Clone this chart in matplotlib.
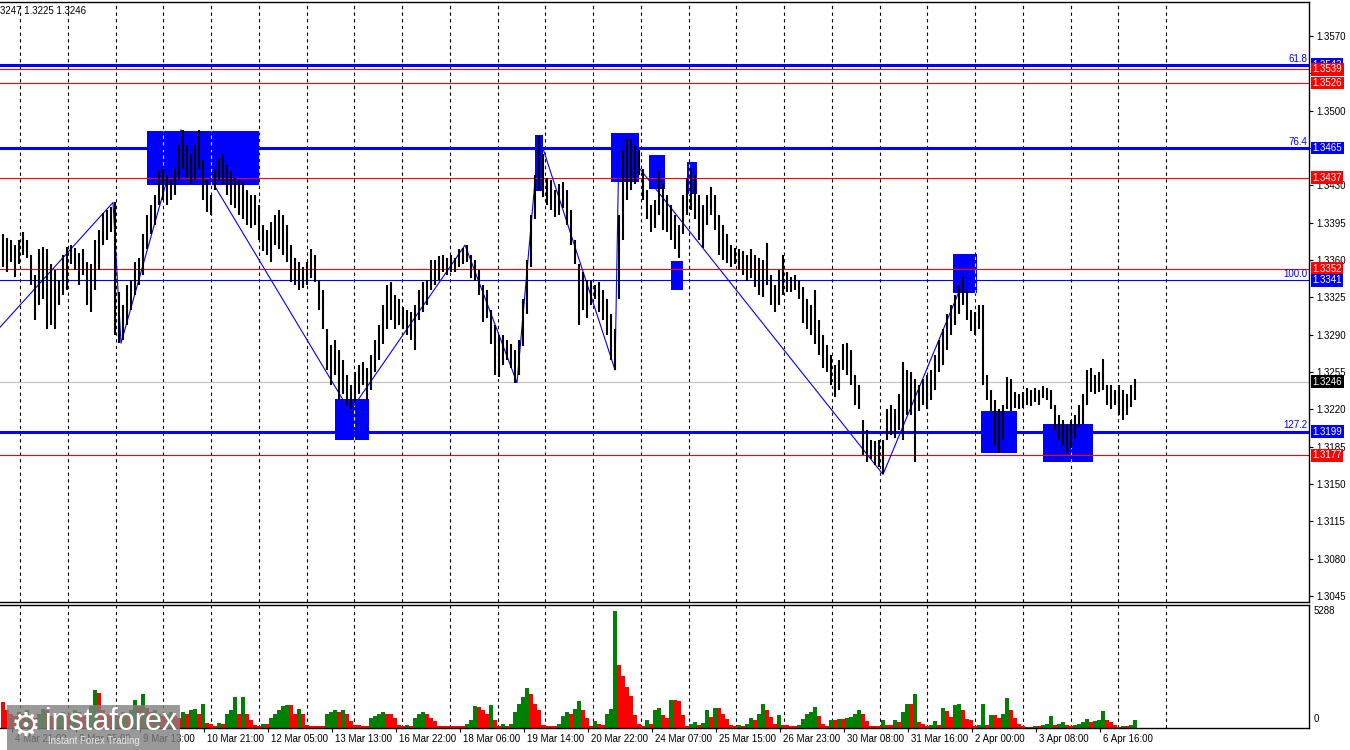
import numpy as np
import matplotlib.pyplot as plt
from matplotlib.patches import Rectangle
from matplotlib.transforms import ScaledTranslation, blended_transform_factory
from matplotlib.ticker import FuncFormatter

plt.rcParams['font.family'] = ['Liberation Sans', 'DejaVu Sans']

# GBPUSD, 2-hour bars; prices in pips above 1.3000
high_pips = [
    384, 381, 379, 374, 379, 386, 379, 365, 346, 370,
    372, 370, 356, 351, 341, 365, 372, 374, 371, 367,
    370, 358, 356, 379, 388, 404, 407, 410, 414, 330,
    318, 337, 341, 358, 362, 384, 402, 412, 421, 443,
    445, 440, 435, 445, 468, 482, 468, 459, 468, 482,
    454, 435, 421, 445, 456, 459, 449, 443, 437, 435,
    433, 426, 421, 421, 412, 393, 388, 396, 402, 407,
    402, 393, 374, 362, 358, 353, 358, 370, 365, 341,
    332, 295, 280, 285, 276, 266, 252, 243, 255, 262,
    264, 259, 271, 285, 299, 318, 337, 339, 327, 323,
    316, 313, 311, 318, 332, 339, 341, 360, 360, 364,
    365, 362, 365, 362, 370, 371, 374, 365, 360, 351,
    337, 332, 313, 299, 290, 290, 285, 281, 276, 285,
    323, 360, 402, 440, 476, 459, 437, 435, 426, 431,
    433, 426, 407, 379, 356, 349, 341, 340, 337, 339,
    332, 323, 309, 295, 402, 463, 473, 473, 468, 463,
    445, 426, 412, 416, 443, 431, 421, 412, 402, 393,
    421, 437, 446, 440, 421, 412, 421, 428, 421, 402,
    393, 384, 374, 371, 370, 368, 365, 370, 365, 362,
    360, 376, 346, 337, 351, 365, 349, 344, 346, 341,
    335, 323, 318, 332, 304, 290, 280, 271, 262, 266,
    281, 282, 276, 252, 243, 210, 201, 191, 190, 191,
    191, 220, 224, 220, 234, 264, 257, 255, 248, 243,
    248, 252, 257, 271, 285, 295, 309, 318, 327, 337,
    344, 332, 313, 311, 318, 318, 252, 238, 229, 220,
    224, 250, 248, 236, 234, 236, 240, 238, 240, 238,
    242, 240, 238, 224, 215, 210, 205, 210, 215, 224,
    234, 257, 259, 252, 255, 267, 243, 243, 238, 243, 238, 234, 243, 248,
]
low_pips = [
    353, 349, 358, 344, 356, 365, 362, 337, 304, 318,
    323, 295, 299, 295, 318, 327, 332, 356, 351, 337,
    346, 318, 311, 332, 351, 374, 379, 386, 290, 282,
    285, 299, 313, 327, 337, 346, 370, 384, 393, 412,
    416, 412, 416, 421, 435, 445, 437, 431, 435, 445,
    416, 405, 402, 426, 435, 431, 421, 412, 409, 402,
    398, 393, 390, 393, 379, 368, 365, 358, 374, 370,
    365, 358, 339, 337, 332, 334, 337, 343, 339, 313,
    295, 257, 243, 252, 229, 234, 224, 220, 227, 234,
    243, 229, 238, 255, 266, 281, 295, 304, 295, 299,
    295, 290, 285, 276, 304, 311, 318, 332, 337, 341,
    349, 346, 349, 349, 353, 356, 358, 343, 340, 327,
    302, 306, 281, 252, 250, 262, 266, 259, 245, 252,
    279, 309, 353, 398, 426, 419, 412, 407, 400, 402,
    409, 393, 374, 356, 299, 313, 306, 318, 323, 311,
    304, 290, 266, 257, 323, 379, 416, 426, 431, 440,
    416, 398, 386, 390, 402, 388, 386, 379, 370, 362,
    384, 402, 407, 398, 379, 371, 393, 402, 388, 365,
    360, 357, 353, 356, 351, 346, 340, 343, 335, 327,
    325, 337, 318, 311, 318, 327, 330, 330, 332, 323,
    301, 295, 290, 281, 271, 259, 255, 243, 232, 238,
    257, 252, 243, 224, 220, 177, 171, 173, 168, 166,
    159, 191, 196, 193, 201, 191, 215, 215, 171, 218,
    224, 220, 229, 238, 255, 262, 276, 290, 299, 309,
    318, 304, 293, 290, 295, 243, 229, 218, 187, 179,
    191, 220, 218, 221, 220, 221, 224, 223, 227, 224,
    231, 229, 220, 201, 191, 187, 180, 184, 193, 203,
    206, 224, 236, 234, 236, 238, 224, 220, 224, 215, 210, 215, 222, 229,
]
volumes = [
    1190, 820, 640, 550, 730, 640, 820, 550, 460, 640,
    870, 820, 550, 460, 640, 730, 550, 640, 820, 730,
    550, 640, 1000, 1730, 1600, 820, 640, 550, 640, 550,
    730, 640, 820, 1280, 1000, 1550, 910, 730, 820, 640,
    550, 640, 730, 550, 460, 730, 640, 820, 870, 640,
    1090, 230, 180, 90, 230, 180, 640, 820, 1410, 640,
    1410, 640, 360, 140, 90, 180, 180, 460, 640, 820,
    1000, 1050, 1050, 640, 870, 640, 140, 90, 90, 90,
    90, 640, 730, 820, 730, 820, 640, 320, 140, 140,
    90, 90, 460, 550, 640, 730, 640, 640, 460, 140,
    90, 140, 90, 460, 640, 730, 640, 460, 320, 90,
    90, 90, 90, 90, 90, 90, 180, 360, 1000, 950,
    820, 640, 1050, 360, 90, 180, 90, 180, 730, 1090,
    1410, 1820, 1550, 1100, 820, 140, 90, 90, 90, 180,
    550, 730, 640, 870, 1230, 820, 460, 90, 320, 180,
    140, 640, 870, 5288, 2830, 2370, 1870, 1460, 590, 180,
    90, 360, 180, 820, 910, 590, 460, 1280, 1280, 1230,
    590, 90, 180, 270, 140, 230, 820, 500, 910, 910,
    640, 410, 140, 90, 140, 90, 180, 460, 360, 640,
    1090, 820, 500, 180, 590, 140, 140, 90, 90, 140,
    410, 640, 730, 960, 550, 180, 90, 360, 360, 410,
    410, 460, 500, 640, 820, 640, 320, 90, 90, 90,
    360, 140, 140, 360, 270, 730, 1090, 1090, 1550, 270,
    180, 90, 140, 320, 140, 910, 770, 500, 1050, 1090,
    820, 410, 360, 90, 140, 1090, 140, 590, 590, 460,
    640, 1370, 820, 460, 180, 90, 45, 45, 90, 90,
    140, 180, 550, 140, 180, 270, 140, 90, 140, 180,
    270, 410, 270, 320, 360, 770, 360, 270, 140, 45, 90, 90, 140, 360,
]

# horizontal levels
red_levels = [1.3539, 1.3526, 1.3437, 1.3352, 1.3177]
fib_levels = [1.3543, 1.3465, 1.3341, 1.3199]
fib_names = ['61.8', '76.4', '100.0', '127.2']
last_price = 1.3246

# zigzag swing points (hour index, price)
zz_hours = [0, 56.5, 60.5, 90.5, 175, 232.5, 258.5, 269.5, 307.5, 309.5, 441.5, 482.5]
zz_prices = [1.3297, 1.3414, 1.3282, 1.3482, 1.3218, 1.3374, 1.3245, 1.3476,
             1.3257, 1.3470, 1.3159, 1.3344]

# blue zones: start hour, end hour, low, high
box_start = [73.5, 167.5, 267.5, 305.5, 324.5, 335.5, 343.5, 476.5, 490.5, 521.5]
box_end = [129.5, 184.5, 271.5, 319.5, 332.5, 341.5, 348.5, 488.5, 508.5, 546.5]
box_low = [1.3430, 1.3191, 1.3425, 1.3433, 1.3427, 1.3332, 1.3422, 1.3329, 1.3179, 1.3171]
box_high = [1.3481, 1.3230, 1.3477, 1.3479, 1.3458, 1.3359, 1.3452, 1.3366, 1.3218, 1.3206]

date_labels = ['4 Mar 21:00', '6 Mar 05:00', '9 Mar 13:00', '10 Mar 21:00', '12 Mar 05:00',
               '13 Mar 13:00', '16 Mar 22:00', '18 Mar 06:00', '19 Mar 14:00', '20 Mar 22:00',
               '24 Mar 07:00', '25 Mar 15:00', '26 Mar 23:00', '30 Mar 08:00', '31 Mar 16:00',
               '2 Apr 00:00', '3 Apr 08:00', '6 Apr 16:00']

# scale labels covered by the coloured price tags
hidden_ticks = [1.3535, 1.3465]

assert len(high_pips) == len(low_pips) == len(volumes)

highs = 1.3 + np.array(high_pips) / 10000
lows = 1.3 + np.array(low_pips) / 10000
bar_hours = 1.5 + 2 * np.arange(len(highs))
date_hours = 6 + 32 * np.arange(len(date_labels))
grid_hours = np.linspace(10, 583, 25)

FS = 7
W, H = 1350, 750
fig = plt.figure(figsize=(W / 100, H / 100), dpi=100)
ax = fig.add_axes([0, 1 - 602 / H, 1309 / W, 600 / H])
axv = fig.add_axes([0, 1 - 728 / H, 1309 / W, 123 / H])

dash = (0, (3, 3))
for a in (ax, axv):
    for gh in grid_hours:
        a.axvline(gh, color='black', ls=dash, lw=0.8, zorder=0)
    a.set_xlim(0, 654.5)
    a.spines['left'].set_visible(False)
    for s in ('top', 'bottom', 'right'):
        a.spines[s].set_linewidth(1.0)

ax.set_ylim(1.30394, 1.36019)

# zones
for s, e, lo, hi in zip(box_start, box_end, box_low, box_high):
    ax.add_patch(Rectangle((s, lo), e - s, hi - lo, facecolor='#0000ff', edgecolor='none', zorder=1))
    inside = grid_hours[(grid_hours > s) & (grid_hours < e)]
    if len(inside):
        ax.vlines(inside, lo, hi, colors='#ffff00', linestyles=dash, lw=0.8, zorder=1.5)

# levels
for p in red_levels:
    ax.axhline(p, color='#ff0000', lw=0.8, zorder=2)
for p, name in zip(fib_levels, fib_names):
    ax.axhline(p, color='#0000ff', lw=0.8 if name == '100.0' else 2.2, zorder=2)
ax.axhline(last_price, color='#c0c0c0', lw=0.8, zorder=2)

# zigzag
ax.plot(zz_hours, zz_prices, color='#0000ff', lw=0.8, zorder=2.5)

# price bars
ax.vlines(bar_hours, lows, highs, colors='black', lw=1.5, zorder=3)

# fibo names
tr = blended_transform_factory(ax.transAxes, ax.transData)
for p, name in zip(fib_levels, fib_names):
    ax.text(0.9985, p + 0.00012, name, transform=tr, ha='right', va='bottom',
            color='#0000ff', fontsize=FS, zorder=6)

# right price scale
ax.yaxis.tick_right()
ax.set_yticks(np.round(np.arange(1.3045, 1.3571, 0.0035), 4))
ax.yaxis.set_major_formatter(FuncFormatter(
    lambda v, pos: '' if any(abs(v - h) < 1e-6 for h in hidden_ticks) else f'{v:.4f}'))
ax.tick_params(axis='y', length=3, width=0.8, labelsize=FS, pad=2)
ax.set_xticks([])


def price_tag(p, color):
    ax.annotate(f'{p:.4f}', xy=(1, p), xycoords=('axes fraction', 'data'),
                xytext=(2.5, 0), textcoords='offset points', ha='left', va='center',
                color='white', fontsize=FS, annotation_clip=False, zorder=10,
                bbox=dict(boxstyle='square,pad=0.15', fc=color, ec='none'))


price_tag(fib_levels[0], '#0000ff')
price_tag(red_levels[0], '#ff0000')
price_tag(red_levels[1], '#ff0000')
price_tag(fib_levels[1], '#0000ff')
price_tag(red_levels[2], '#ff0000')
price_tag(red_levels[3], '#ff0000')
price_tag(fib_levels[2], '#0000ff')
price_tag(last_price, '#000000')
price_tag(fib_levels[3], '#0000ff')
price_tag(red_levels[4], '#ff0000')

# volumes
vcolors = ['#ff0000'] + ['#008000' if volumes[i] > volumes[i - 1] else '#ff0000'
                         for i in range(1, len(volumes))]
axv.bar(bar_hours, volumes, width=2.0, color=vcolors, zorder=2)
axv.set_ylim(0, 5560)
axv.set_yticks([])
axv.annotate('5288', xy=(1, max(volumes)), xycoords=('axes fraction', 'data'),
             xytext=(3, 0), textcoords='offset points', ha='left', va='center',
             fontsize=FS, annotation_clip=False)
axv.annotate('0', xy=(1, 0), xycoords=('axes fraction', 'data'),
             xytext=(3, 3), textcoords='offset points', ha='left', va='bottom',
             fontsize=FS, annotation_clip=False)
axv.set_xticks(date_hours)
axv.set_xticklabels(date_labels, ha='left')
axv.tick_params(axis='x', length=3, width=0.8, labelsize=FS, pad=1.5)
for lab in axv.get_xticklabels():
    lab.set_transform(lab.get_transform() + ScaledTranslation(2 / 72, 0, fig.dpi_scale_trans))

fig.text(0, 1 - 11 / H, '3247 1.3225 1.3246', fontsize=FS, va='center')

# watermark logo
fig.patches.append(Rectangle((7 / W, 0), 173 / W, 45 / H, transform=fig.transFigure,
                             facecolor='#808080', alpha=0.8, edgecolor='none', zorder=20))
fig.text(26 / W, 1 - 726 / H, '\u2699', family='DejaVu Sans', fontsize=24, color='white',
         ha='center', va='center', zorder=21)
fig.text(45 / W, 1 - 722 / H, 'instaforex', fontsize=22, color='white',
         ha='left', va='center', zorder=21)
fig.text(48 / W, 1 - 741 / H, 'Instant Forex Trading', fontsize=7, color='#e8e8e8',
         ha='left', va='center', zorder=21)

fig.savefig('out.png', dpi=100)
